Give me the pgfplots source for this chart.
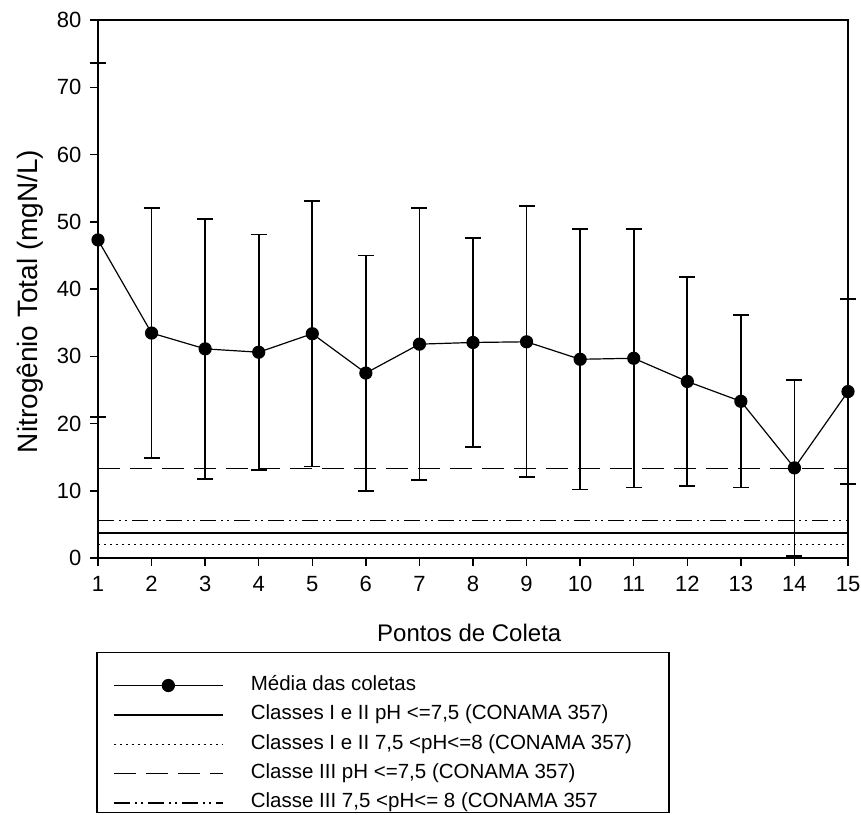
\documentclass[border=0pt]{standalone}
\usepackage{fontspec}
\setmainfont{Liberation Sans}
\usepackage{pgfplots}
\pgfplotsset{compat=1.18}
\begin{document}
\begin{tikzpicture}
\path[use as bounding box] (-98pt,-256pt) rectangle (763pt,558pt);
\begin{axis}[
 at={(0pt,0pt)}, anchor=south west,
 width=750pt, height=538pt, scale only axis,
 xmin=1, xmax=15, ymin=0, ymax=80,
 xtick={1,...,15}, ytick={0,10,...,80},
 xtick pos=bottom, ytick pos=left,
 tick align=outside,
 major tick length=8pt,
 major tick style={black, line width=1.5pt},
 axis line style={line width=1.8pt},
 /pgf/number format/assume math mode=true,
 tick label style={font=\fontsize{22}{26}\selectfont},
 xticklabel style={yshift=-7pt},
 yticklabel style={xshift=-5pt},
 label style={font=\fontsize{24}{28}\selectfont},
 xlabel={Pontos de Coleta},
 ylabel={Nitrogênio Total (mgN/L)},
 xlabel style={at={(axis description cs:0.495,-0.1543)}, anchor=base},
 ylabel style={at={(axis description cs:-0.0813,0.477)}, anchor=base, font=\fontsize{28}{32}\selectfont},
 clip=false,
 legend cell align=left,
 legend style={at={(axis description cs:0.02,-0.2093)}, anchor=north west,
   draw=none, fill=none, inner sep=0pt, row sep=0pt,
   font=\fontsize{20.5}{24}\selectfont,
   nodes={text height=14pt, text depth=4.5pt, inner ysep=5.45pt, inner xsep=6pt}},
 legend image code/.code={%
   \draw[mark repeat=2,mark phase=2,#1] plot coordinates {(0pt,0pt) (54.5pt,0pt) (109pt,0pt)};
   \path[draw=none,fill=none] (0pt,-5pt) rectangle (131pt,5pt);},
]
\addplot[black, line width=1.2pt, mark=*, mark size=6pt,
  error bars/.cd, y dir=both, y explicit,
  error bar style={line width=1.7pt, black},
  error mark options={rotate=90, mark size=8pt, line width=1.7pt, black}]
 coordinates {
 (1,47.3) +- (0,26.3)
 (2,33.45) +- (0,18.55)
 (3,31.1) +- (0,19.3)
 (4,30.6) +- (0,17.5)
 (5,33.35) +- (0,19.75)
 (6,27.5) +- (0,17.5)
 (7,31.8) +- (0,20.2)
 (8,32.05) +- (0,15.55)
 (9,32.15) +- (0,20.15)
 (10,29.55) +- (0,19.35)
 (11,29.7) +- (0,19.2)
 (12,26.25) +- (0,15.55)
 (13,23.3) +- (0,12.8)
 (14,13.4) +- (0,13.1)
 (15,24.75) +- (0,13.75)
 };
\addlegendentry{Média das coletas}
\addplot[black, line width=1.3pt] coordinates {(1,3.7) (15,3.7)};
\addlegendentry{Classes I e II pH <=7,5 (CONAMA 357)}
\addplot[black, line width=1.3pt, dash pattern=on 2pt off 4pt] coordinates {(1,2.0) (15,2.0)};
\addlegendentry{Classes I e II 7,5 <pH<=8 (CONAMA 357)}
\addplot[black, line width=1.3pt, dash pattern=on 22pt off 10pt] coordinates {(1,13.3) (15,13.3)};
\addlegendentry{Classe III pH <=7,5 (CONAMA 357)}
\addplot[black, line width=1.3pt, dash pattern=on 16pt off 5pt on 2pt off 4pt on 2pt off 5pt] coordinates {(1,5.6) (15,5.6)};
\addlegendentry{Classe III 7,5 <pH<= 8 (CONAMA 357}
\draw[line width=1.5pt] (axis description cs:-0.0013,-0.176) rectangle (axis description cs:0.7613,-0.4734);
\end{axis}
\end{tikzpicture}
\end{document}
